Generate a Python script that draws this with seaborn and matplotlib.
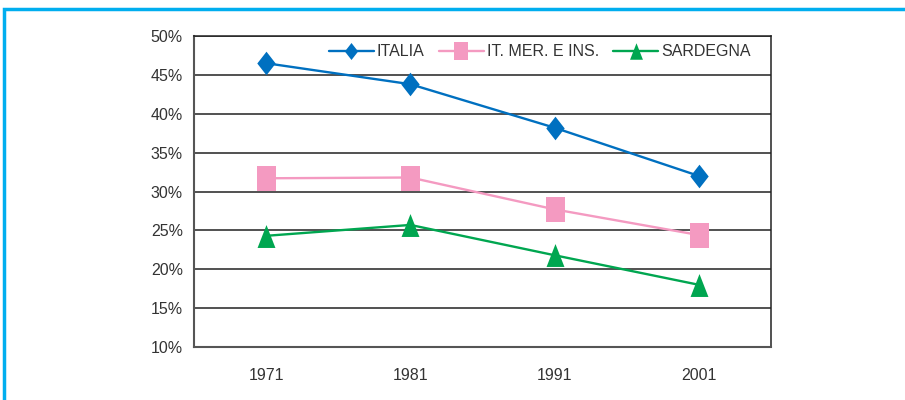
import pandas as pd
import matplotlib.pyplot as plt
import seaborn as sns
from matplotlib.patches import Rectangle
from matplotlib.ticker import PercentFormatter

# dati
anni = ["1971", "1981", "1991", "2001"]
italia = [46.5, 43.8, 38.2, 32.0]
mezzogiorno = [31.7, 31.8, 27.7, 24.4]
sardegna = [24.3, 25.7, 21.8, 18.0]
serie = ["ITALIA", "IT. MER. E INS.", "SARDEGNA"]

colori = {"ITALIA": "#0070C0", "IT. MER. E INS.": "#F49AC1", "SARDEGNA": "#00A650"}
# marcatori un po' allungati in verticale come nell'originale
marker = {
    "ITALIA": [(0, 1), (0.78, 0), (0, -1), (-0.78, 0)],
    "IT. MER. E INS.": [(-0.76, -1), (0.76, -1), (0.76, 1), (-0.76, 1)],
    "SARDEGNA": [(0, 1), (0.78, -1), (-0.78, -1)],
}
dim = {"ITALIA": 17, "IT. MER. E INS.": 18, "SARDEGNA": 16.5}

df = pd.DataFrame({
    "anno": anni * 3,
    "pos": list(range(len(anni))) * 3,
    "valore": italia + mezzogiorno + sardegna,
    "serie": [s for s in serie for _ in anni],
})

sns.set_style("white")
plt.rcParams["font.family"] = ["Liberation Sans", "DejaVu Sans"]

fig = plt.figure(figsize=(9.05, 4), dpi=100)
ax = fig.add_axes([194 / 905, 1 - 347 / 400, 577 / 905, 311 / 400])

for s in serie:
    sub = df[df.serie == s]
    sns.lineplot(data=sub, x="pos", y="valore", color=colori[s], marker=marker[s],
                 markersize=dim[s], markeredgewidth=0, linewidth=1.7, label=s, ax=ax)

ax.set_xlim(-0.5, len(anni) - 0.5)
ax.set_ylim(10, 50)
ax.set_yticks(range(10, 51, 5))
ax.yaxis.set_major_formatter(PercentFormatter(decimals=0))
ax.set_xticks([i - 0.5 for i in range(len(anni) + 1)])
ax.set_xticklabels([])
ax.set_xticks(range(len(anni)), minor=True)
ax.set_xticklabels(anni, minor=True)
ax.tick_params(axis="x", which="minor", length=0, pad=15, labelsize=11.5, labelcolor="#333333")
ax.tick_params(axis="x", which="major", length=5, width=1, color="#555555", direction="out")
ax.tick_params(axis="y", length=5, width=1, color="#555555", direction="out", labelsize=11.5,
               labelcolor="#333333", pad=3)
ax.set_xlabel("")
ax.set_ylabel("")

ax.grid(axis="y", color="#222222", linewidth=1.1)
ax.set_axisbelow(True)
for side in ["left", "bottom"]:
    ax.spines[side].set_color("#555555")
    ax.spines[side].set_linewidth(1.5)
for side in ["top", "right"]:
    ax.spines[side].set_color("#222222")
    ax.spines[side].set_linewidth(1.1)

ax.legend(loc="upper right", bbox_to_anchor=(0.99, 1.02), ncol=3, frameon=False,
          fontsize=11.5, handlelength=2.8, columnspacing=0.9, handletextpad=0.2,
          markerscale=0.72, labelcolor="#333333")

# cornice azzurra
fig.add_artist(Rectangle((4 / 905, -0.05), 1.0, 1.05 - 9 / 400, transform=fig.transFigure,
                         fill=False, edgecolor="#00AEEF", linewidth=2.5))

fig.savefig("out.png", dpi=100)
